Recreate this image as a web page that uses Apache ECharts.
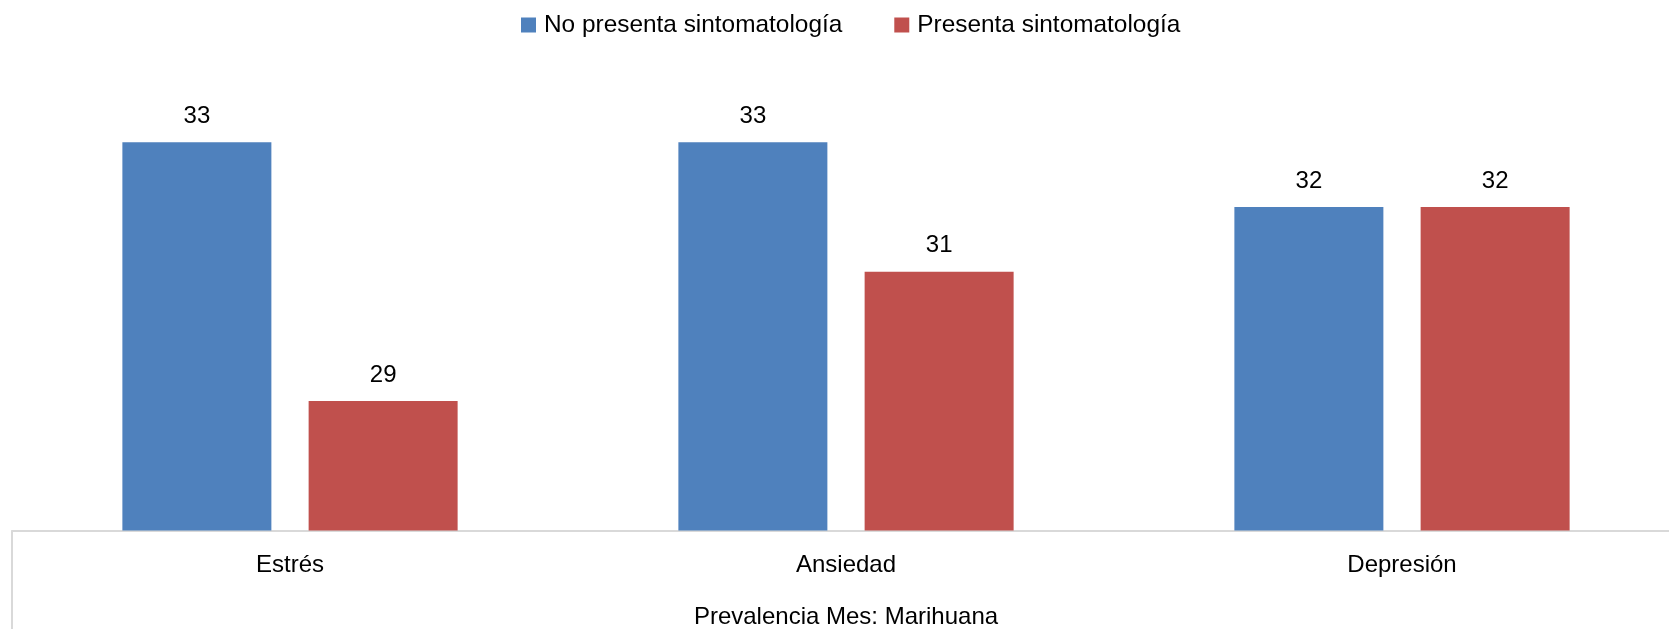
<!DOCTYPE html>
<html>
<head>
<meta charset="utf-8">
<script src="https://cdn.jsdelivr.net/npm/echarts@6/dist/echarts.min.js"></script>
<style>
html,body{margin:0;padding:0;background:#fff;overflow:hidden;width:1669px;height:629px;}
#wrap{width:1669px;height:629px;overflow:hidden;position:relative;}
#chart{width:1680px;height:629px;position:absolute;left:0;top:0;}
</style>
</head>
<body>
<div id="wrap"><div id="chart"></div></div>
<script>
const categories = ['Estrés', 'Ansiedad', 'Depresión'];
const seriesNames = ['No presenta sintomatología', 'Presenta sintomatología'];
const noPresenta = [33, 33, 32];
const presenta = [29, 31, 32];
const axisTitle = 'Prevalencia Mes: Marihuana';

const FONT = 'Liberation Sans';
const chart = echarts.init(document.getElementById('chart'), null, {renderer: 'canvas'});
const labelStyle = {show: true, position: 'top', distance: 14, color: '#000', fontFamily: FONT, fontSize: 24};
chart.setOption({
  animation: false,
  backgroundColor: '#fff',
  textStyle: {fontFamily: FONT},
  legend: {
    left: 516, top: 8,
    itemWidth: 15, itemHeight: 15, itemGap: 52,
    icon: 'rect',
    textStyle: {fontFamily: FONT, fontSize: 24.4, color: '#000', padding: [0, 0, 0, 3]},
    data: seriesNames
  },
  grid: {left: 12, right: 0, top: 77.6, bottom: 98.5, containLabel: false, outerBoundsMode: 'none'},
  xAxis: {
    type: 'category',
    data: categories,
    boundaryGap: true,
    axisLine: {show: true, lineStyle: {color: '#d9d9d9', width: 2}},
    axisTick: {show: true, length: 100, interval: function (i) { return i === 0; }, lineStyle: {color: '#d9d9d9', width: 2}},
    axisLabel: {margin: 23, color: '#000', fontFamily: FONT, fontSize: 24},
    name: axisTitle,
    nameLocation: 'middle',
    nameGap: 75,
    nameTextStyle: {color: '#000', fontFamily: FONT, fontSize: 24}
  },
  yAxis: {
    type: 'value', min: 27, max: 34, interval: 1,
    show: false, splitLine: {show: false}
  },
  series: [
    {name: seriesNames[0], type: 'bar', data: noPresenta, barWidth: 149, barGap: '25%',
     itemStyle: {color: '#4F81BD'}, label: labelStyle},
    {name: seriesNames[1], type: 'bar', data: presenta, barWidth: 149, barGap: '25%',
     itemStyle: {color: '#C0504D'}, label: labelStyle}
  ]
});
</script>
</body>
</html>
